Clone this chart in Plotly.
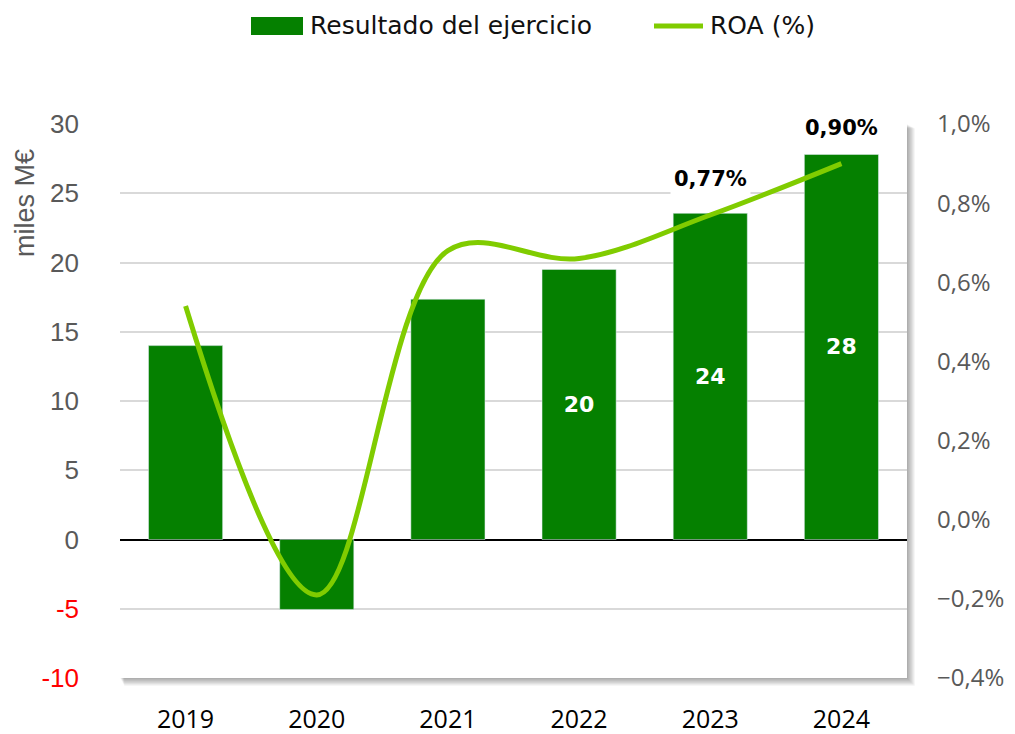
import plotly.graph_objects as go

years = ["2019", "2020", "2021", "2022", "2023", "2024"]
resultado = [14.0, -5.05, 17.35, 19.5, 23.55, 27.8]
bar_labels = ["", "", "", "20", "24", "28"]
roa = [0.54, -0.19, 0.68, 0.66, 0.77, 0.90]
roa_labels = {"2023": "0,77%", "2024": "0,90%"}

left_ticks = [30, 25, 20, 15, 10, 5, 0, -5, -10]
right_ticks = [1.0, 0.8, 0.6, 0.4, 0.2, 0.0, -0.2, -0.4]

OFF = 8  # page offset of the figure inside the window
W, H = 1015 - OFF, 734 - OFF
# plot area in window pixels
L, R, T, B = 120, 907, 124, 678

def px(x):
    return (x - L) / (R - L)

def py(y):
    return (B - y) / (B - T)

BAR = "#058000"
LINE = "#80cc00"
AXIS_FONT = "Liberation Sans, Arial, sans-serif"
MAIN_FONT = "Open Sans, Noto Sans, sans-serif"
WIDE_FONT = "DejaVu Sans, Verdana, sans-serif"

fig = go.Figure()
fig.add_trace(go.Bar(
    x=years, y=resultado, marker_color=BAR, name="Resultado del ejercicio",
    text=bar_labels, textposition="inside", insidetextanchor="middle",
    textfont=dict(color="white", size=22, family=WIDE_FONT, weight="bold"),
    showlegend=False, yaxis="y",
))
fig.add_trace(go.Scatter(
    x=years, y=roa, mode="lines", line=dict(color=LINE, width=5, shape="spline", smoothing=1.0),
    name="ROA (%)", yaxis="y2", showlegend=False,
))

def lt(v):
    s = str(v)
    if v < 0:
        return "<span style='color:#ff0000'>" + s + "</span>"
    return s

def rt(v):
    s = ("%.1f%%" % v).replace(".", ",")
    if s == "-0,0%":
        s = "0,0%"
    return s.replace("-", "−")

shapes = []
# shadow
for k in range(1, 8):
    shapes.append(dict(type="rect", xref="paper", yref="paper",
                       x0=px(L + k * 0.6), x1=px(R + k * 1.1), y0=py(B + k * 1.1), y1=py(T + k * 0.6),
                       fillcolor="rgba(0,0,0,0.05)", line=dict(width=0), layer="below"))
shapes.append(dict(type="rect", xref="paper", yref="paper", x0=0, x1=1, y0=0, y1=1,
                   fillcolor="white", line=dict(width=0), layer="below"))
# legend
shapes.append(dict(type="rect", xref="paper", yref="paper",
                   x0=px(251), x1=px(303), y0=py(35), y1=py(17),
                   fillcolor=BAR, line=dict(width=0)))
shapes.append(dict(type="line", xref="paper", yref="paper",
                   x0=px(654), x1=px(703), y0=py(26), y1=py(26),
                   line=dict(color=LINE, width=5)))

annotations = [
    dict(text="Resultado del ejercicio", x=px(308), y=py(26), xref="paper", yref="paper",
         xanchor="left", yanchor="middle", showarrow=False,
         font=dict(size=25, color="#111111", family=WIDE_FONT)),
    dict(text="ROA (%)", x=px(708), y=py(26), xref="paper", yref="paper",
         xanchor="left", yanchor="middle", showarrow=False,
         font=dict(size=25, color="#111111", family=WIDE_FONT)),
    dict(text="miles M€", x=px(25), y=py(203), xref="paper", yref="paper",
         xanchor="center", yanchor="middle", textangle=-90, showarrow=False,
         font=dict(size=27, color="#595959", family=AXIS_FONT)),
]
for yr, lab in roa_labels.items():
    i = years.index(yr)
    annotations.append(dict(text="<b>" + lab + "</b>", x=i, y=roa[i], xref="x", yref="y2",
                            yshift=36, showarrow=False, bgcolor="white", borderpad=3,
                            font=dict(size=21, color="black", family=WIDE_FONT)))

fig.update_layout(
    width=W, height=H,
    margin=dict(l=L - OFF, r=W - (R - OFF), t=T - OFF, b=H - (B - OFF), autoexpand=False),
    paper_bgcolor="white", plot_bgcolor="rgba(0,0,0,0)",
    bargap=0.435,
    shapes=shapes, annotations=annotations,
    xaxis=dict(type="category", range=[-0.5, len(years) - 0.5], showgrid=False, showline=False,
               ticks="", ticklabelstandoff=24, automargin=False,
               tickfont=dict(size=25, color="black", family=MAIN_FONT)),
    yaxis=dict(range=[-10, 30], tickvals=left_ticks, ticktext=[lt(v) for v in left_ticks],
               showgrid=True, gridcolor="#d9d9d9", gridwidth=1.5,
               zeroline=True, zerolinecolor="black", zerolinewidth=2,
               ticks="", ticklabelstandoff=40, automargin=False,
               tickfont=dict(size=26, color="#595959", family=AXIS_FONT)),
    yaxis2=dict(range=[-0.4, 1.0], overlaying="y", side="right",
                tickvals=right_ticks, ticktext=[rt(v) for v in right_ticks],
                showgrid=False, zeroline=False, ticks="", ticklabelstandoff=29, automargin=False,
                tickfont=dict(size=24, color="#595959", family=MAIN_FONT)),
)

fig.write_html("out.html")
